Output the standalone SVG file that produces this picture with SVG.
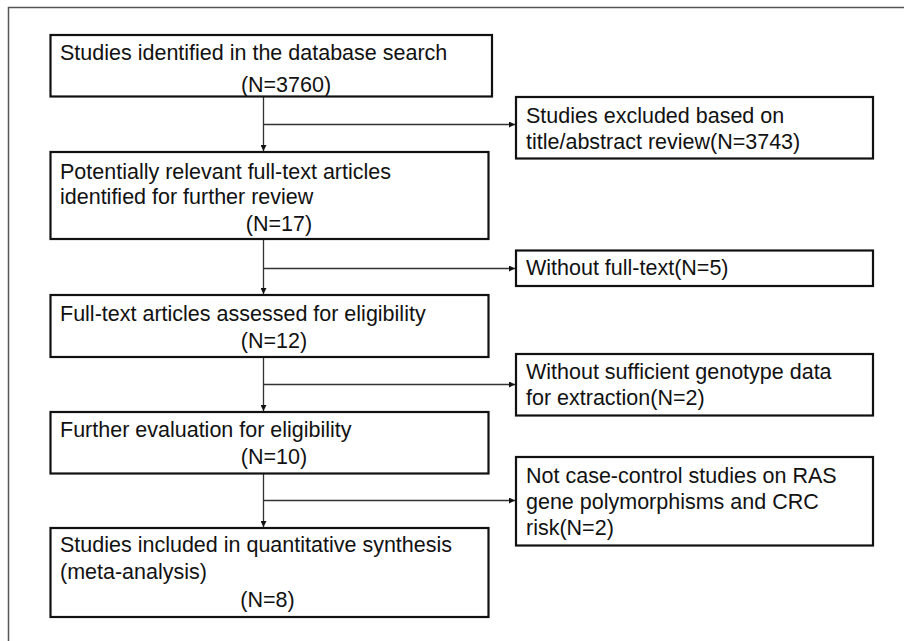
<svg xmlns="http://www.w3.org/2000/svg" width="904" height="641" viewBox="0 0 904 641">
<style>
  .box { fill: #ffffff; stroke: #111111; stroke-width: 2.2; }
  .t { font-family: "Liberation Sans", Arial, sans-serif; font-size: 21.5px; fill: #111111; }
  .c { text-anchor: middle; }
  .conn { stroke: #333333; stroke-width: 1.3; fill: none; }
  .frame { stroke: #555555; stroke-width: 1.5; fill: none; }
</style>
<defs>
  <marker id="arr" viewBox="0 0 10 10" refX="10" refY="5" markerWidth="6" markerHeight="6" markerUnits="userSpaceOnUse" orient="auto">
    <path d="M0,0 L10,5 L0,10 z" fill="#111111"/>
  </marker>
</defs>
<rect width="904" height="641" fill="#ffffff"/>
<path class="frame" d="M8.5,641 L8.5,7.5 L904,7.5"/>

<g id="connectors">
  <line class="conn" x1="263.5" y1="96.5" x2="263.5" y2="151" marker-end="url(#arr)"/>
  <line class="conn" x1="263.5" y1="124.5" x2="515" y2="124.5" marker-end="url(#arr)"/>
  <line class="conn" x1="263.5" y1="239" x2="263.5" y2="294" marker-end="url(#arr)"/>
  <line class="conn" x1="263.5" y1="268.5" x2="515" y2="268.5" marker-end="url(#arr)"/>
  <line class="conn" x1="263.5" y1="357" x2="263.5" y2="411" marker-end="url(#arr)"/>
  <line class="conn" x1="263.5" y1="384.5" x2="515" y2="384.5" marker-end="url(#arr)"/>
  <line class="conn" x1="263.5" y1="473.5" x2="263.5" y2="527" marker-end="url(#arr)"/>
  <line class="conn" x1="263.5" y1="500.5" x2="515" y2="500.5" marker-end="url(#arr)"/>
</g>

<g id="n1">
  <rect class="box" x="50.5" y="35" width="441.5" height="61.5"/>
  <text class="t" x="60" y="60">Studies identified in the database search</text>
  <text class="t c" x="286" y="92">(N=3760)</text>
</g>
<g id="n2">
  <rect class="box" x="50.5" y="152" width="438" height="87"/>
  <text class="t" x="60" y="179">Potentially relevant full-text articles</text>
  <text class="t" x="60" y="204">identified for further review</text>
  <text class="t c" x="279" y="231">(N=17)</text>
</g>
<g id="n3">
  <rect class="box" x="50.5" y="295" width="438" height="62"/>
  <text class="t" x="60" y="320.5">Full-text articles assessed for eligibility</text>
  <text class="t c" x="274" y="347.5">(N=12)</text>
</g>
<g id="n4">
  <rect class="box" x="50.5" y="412" width="438" height="61.5"/>
  <text class="t" x="60" y="437">Further evaluation for eligibility</text>
  <text class="t c" x="274" y="464">(N=10)</text>
</g>
<g id="n5">
  <rect class="box" x="50.5" y="528" width="438" height="89"/>
  <text class="t" x="60" y="552">Studies included in quantitative synthesis</text>
  <text class="t" x="60" y="579">(meta-analysis)</text>
  <text class="t c" x="267.5" y="607">(N=8)</text>
</g>

<g id="r1">
  <rect class="box" x="516" y="97" width="357" height="61.5"/>
  <text class="t" x="526" y="122.5">Studies excluded based on</text>
  <text class="t" x="526" y="149">title/abstract review(N=3743)</text>
</g>
<g id="r2">
  <rect class="box" x="516" y="250.5" width="357" height="35.5"/>
  <text class="t" x="526" y="275">Without full-text(N=5)</text>
</g>
<g id="r3">
  <rect class="box" x="516" y="354" width="357" height="61.5"/>
  <text class="t" x="526" y="378.5">Without sufficient genotype data</text>
  <text class="t" x="526" y="404.5">for extraction(N=2)</text>
</g>
<g id="r4">
  <rect class="box" x="516" y="457" width="357" height="88.5"/>
  <text class="t" x="526" y="482.5">Not case-control studies on RAS</text>
  <text class="t" x="526" y="508.5">gene polymorphisms and CRC</text>
  <text class="t" x="526" y="534.5">risk(N=2)</text>
</g>
</svg>
